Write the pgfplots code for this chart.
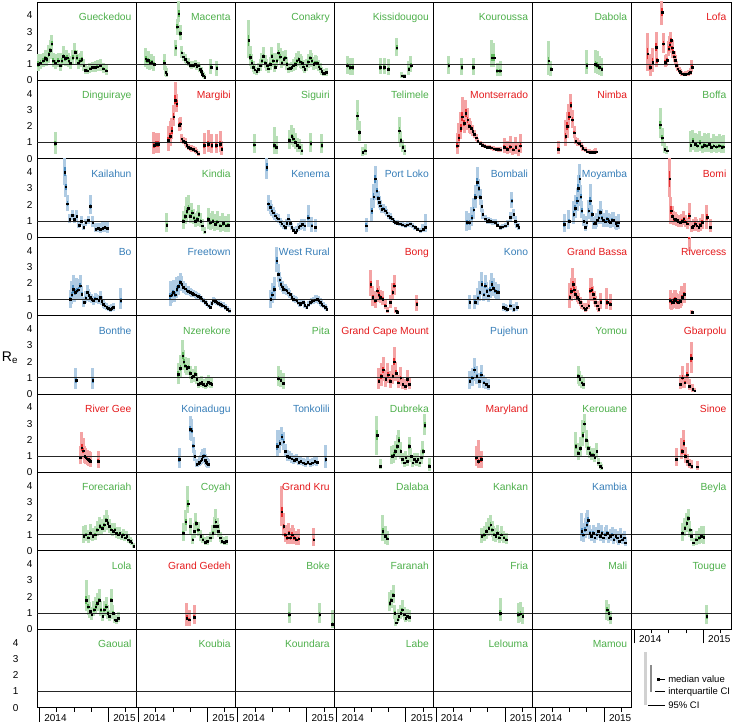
\documentclass[border=0pt]{standalone}
\usepackage{fontspec}
\setmainfont{Liberation Sans}
\usepackage{pgfplots}
\usepackage{pgfplotstable}
\pgfplotsset{compat=1.18}
\usepgfplotslibrary{groupplots}
\usetikzlibrary{calc}
\definecolor{gT}{HTML}{4DAF4A}
\definecolor{rT}{HTML}{E41A1C}
\definecolor{bT}{HTML}{377EB8}
\newcommand{\lf}{\fontsize{10.3bp}{12bp}\selectfont}
\newcommand{\pn}[3]{%
\addplot[forget plot, draw=#1!40!white, line width=3bp, quiver={u=0, v=\thisrow{h}-\thisrow{l}}] table[x=m,y=l] {#3};
\addplot[forget plot, draw=#1!90!white, line width=1.8bp, quiver={u=0, v=\thisrow{b}-\thisrow{a}}] table[x=m,y=a] {#3};
\addplot[black!85, line width=0.8bp, forget plot] coordinates {(-0.4,1) (16.84,1)};
\addplot[only marks, mark=square*, mark size=0.8bp, black, forget plot] table[x=m,y=v] {#3};
\node[anchor=base east, text=#1, font=\lf, inner sep=0pt] at ([xshift=-4.5bp,yshift=-18.5bp]rel axis cs:1,1) {#2};
}
\newcommand{\pe}[2]{%
\addplot[black!85, line width=0.8bp, forget plot] coordinates {(-0.4,1) (16.84,1)};
\node[anchor=base east, text=#1, font=\lf, inner sep=0pt] at ([xshift=-4.5bp,yshift=-18.5bp]rel axis cs:1,1) {#2};
}
\pgfplotstableread{
m v l h a b
-0.2 1.0 0.6 1.6 0.85 1.2
0.2 1.1 0.7 1.6 0.95 1.25
0.7 1.2 0.8 1.7 1.05 1.35
1.0 1.35 0.9 1.9 1.2 1.5
1.3 1.3 0.9 1.8 1.15 1.45
1.6 1.6 1.1 2.2 1.45 1.75
1.9 1.85 1.3 2.5 1.7 2.0
2.15 2.25 1.7 2.8 2.1 2.4
2.45 1.2 0.8 1.7 1.05 1.35
2.8 1.1 0.7 1.6 0.95 1.25
3.3 1.2 0.8 1.7 1.05 1.35
3.6 0.9 0.6 1.3 0.8 1.0
3.9 1.2 0.8 1.7 1.05 1.35
4.2 1.5 1.0 2.1 1.35 1.65
4.5 1.35 0.9 1.9 1.2 1.5
4.8 1.4 1.0 1.9 1.25 1.55
5.1 1.2 0.8 1.7 1.05 1.35
5.4 1.05 0.7 1.5 0.95 1.15
5.8 1.4 1.0 1.9 1.25 1.55
6.2 1.75 1.3 2.3 1.6 1.9
6.5 1.4 1.0 1.9 1.25 1.55
6.8 1.1 0.7 1.6 0.95 1.25
7.1 1.2 0.8 1.7 1.05 1.35
7.4 1.3 0.9 1.8 1.15 1.45
7.7 0.9 0.6 1.3 0.8 1.0
7.95 0.62 0.4 1.0 0.55 0.7
8.3 0.6 0.4 0.9 0.52 0.68
8.8 0.72 0.45 1.05 0.63 0.8
9.2 0.8 0.5 1.15 0.7 0.9
9.7 0.8 0.5 1.2 0.7 0.9
10.1 0.85 0.55 1.25 0.75 0.95
10.6 0.9 0.6 1.3 0.8 1.0
11.1 0.72 0.45 1.1 0.63 0.8
11.6 0.6 0.35 0.95 0.52 0.68
}\tGue
\pgfplotstableread{
m v l h a b
1.27 1.33 0.8 2.0 1.15 1.5
1.5 1.2 0.7 1.8 1.05 1.35
1.72 1.23 0.75 1.8 1.08 1.38
2.0 1.1 0.65 1.65 0.95 1.25
2.3 1.13 0.7 1.65 0.98 1.28
2.7 1.0 0.6 1.5 0.88 1.12
4.45 1.1 0.65 1.6 0.95 1.25
4.75 0.5 0.25 0.9 0.42 0.6
4.9 0.4 0.2 0.75 0.33 0.48
6.5 2.0 1.5 2.5 1.85 2.15
6.77 3.3 2.8 3.8 3.15 3.45
7.0 4.1 3.6 4.9 3.9 4.35
7.23 2.9 2.5 3.4 2.75 3.05
7.5 1.7 1.4 2.1 1.6 1.8
7.8 1.45 1.2 1.75 1.38 1.52
8.1 1.3 1.05 1.6 1.22 1.38
8.4 1.15 0.95 1.4 1.08 1.22
8.7 1.1 0.9 1.35 1.03 1.17
9.0 0.95 0.75 1.2 0.88 1.02
9.27 0.9 0.7 1.15 0.83 0.97
9.55 0.95 0.75 1.2 0.88 1.02
9.85 1.0 0.8 1.25 0.93 1.07
10.1 0.85 0.65 1.1 0.78 0.92
10.4 0.9 0.7 1.15 0.83 0.97
10.7 0.7 0.5 0.95 0.63 0.77
10.9 0.55 0.4 0.8 0.5 0.62
11.1 0.4 0.25 0.6 0.35 0.45
11.3 0.3 0.15 0.5 0.25 0.35
11.5 0.2 0.1 0.4 0.16 0.25
12.6 0.8 0.4 1.3 0.68 0.92
13.6 0.75 0.3 1.2 0.62 0.88
}\tMac
\pgfplotstableread{
m v l h a b
1.9 2.46 1.35 3.7 2.1 2.8
2.17 1.43 0.9 2.1 1.25 1.6
2.45 1.1 0.7 1.6 0.97 1.23
2.75 0.82 0.5 1.2 0.72 0.92
3.0 0.65 0.4 1.0 0.57 0.73
3.3 0.55 0.35 0.85 0.48 0.62
3.6 0.7 0.45 1.05 0.62 0.78
3.9 0.9 0.6 1.3 0.8 1.0
4.2 1.2 0.8 1.7 1.07 1.33
4.5 1.5 1.05 2.05 1.35 1.65
4.8 1.1 0.75 1.55 0.98 1.22
5.1 0.9 0.6 1.3 0.8 1.0
5.35 0.72 0.45 1.05 0.63 0.81
5.65 1.0 0.65 1.45 0.88 1.12
5.95 1.5 1.05 2.05 1.35 1.65
6.2 1.2 0.8 1.7 1.07 1.33
6.5 0.82 0.5 1.2 0.72 0.92
6.8 1.2 0.8 1.7 1.07 1.33
7.1 1.7 1.2 2.3 1.55 1.85
7.4 1.45 1.0 2.0 1.3 1.6
7.7 1.1 0.75 1.55 0.98 1.22
8.0 1.3 0.9 1.8 1.17 1.43
8.26 1.4 1.0 1.9 1.27 1.53
8.55 1.0 0.65 1.45 0.88 1.12
8.85 0.72 0.45 1.05 0.63 0.81
9.1 0.75 0.5 1.1 0.66 0.84
9.4 0.8 0.5 1.15 0.7 0.9
9.7 0.9 0.6 1.3 0.8 1.0
10.0 1.0 0.65 1.45 0.88 1.12
10.3 1.2 0.8 1.7 1.07 1.33
10.6 1.3 0.9 1.8 1.17 1.43
10.9 1.15 0.75 1.6 1.02 1.28
11.2 1.05 0.7 1.5 0.93 1.17
11.45 0.85 0.55 1.25 0.75 0.95
11.7 0.7 0.45 1.05 0.62 0.78
12.0 0.9 0.6 1.3 0.8 1.0
12.3 1.15 0.75 1.6 1.02 1.28
12.6 1.4 0.95 1.9 1.27 1.53
12.9 1.2 0.8 1.7 1.07 1.33
13.2 1.0 0.65 1.45 0.88 1.12
13.5 1.1 0.75 1.55 0.98 1.22
13.8 1.05 0.7 1.5 0.93 1.17
14.1 0.85 0.55 1.25 0.75 0.95
14.35 0.72 0.45 1.05 0.63 0.81
14.6 0.55 0.35 0.85 0.48 0.62
14.9 0.45 0.28 0.7 0.4 0.5
15.15 0.45 0.28 0.7 0.4 0.5
15.4 0.5 0.3 0.75 0.44 0.56
}\tCon
\pgfplotstableread{
m v l h a b
1.86 0.9 0.4 1.5 0.75 1.05
2.33 0.8 0.35 1.4 0.67 0.95
2.8 0.8 0.35 1.4 0.67 0.95
7.55 0.8 0.4 1.4 0.67 0.93
8.25 0.8 0.4 1.4 0.67 0.93
9.0 0.7 0.35 1.3 0.58 0.83
10.45 2.0 1.5 2.6 1.85 2.15
11.3 0.3 0.15 0.5 0.25 0.35
11.7 0.25 0.12 0.4 0.2 0.3
12.5 0.7 0.35 1.2 0.58 0.82
12.9 0.9 0.5 1.5 0.77 1.05
}\tKis
\pgfplotstableread{
m v l h a b
2.2 0.9 0.4 1.5 0.75 1.05
4.5 0.8 0.35 1.4 0.67 0.95
6.5 0.8 0.35 1.4 0.67 0.95
9.7 1.4 0.8 2.5 1.2 1.65
10.1 1.4 0.8 2.3 1.2 1.6
10.65 0.6 0.25 1.1 0.48 0.72
11.2 0.6 0.25 1.2 0.48 0.72
}\tKou
\pgfplotstableread{
m v l h a b
2.35 1.2 0.35 2.4 0.95 1.45
2.77 0.7 0.3 1.2 0.58 0.82
9.0 0.9 0.4 1.9 0.72 1.1
10.5 1.0 0.45 1.9 0.82 1.2
10.8 0.95 0.4 1.8 0.78 1.12
11.2 0.8 0.35 1.5 0.65 0.95
11.6 0.7 0.3 1.4 0.56 0.84
}\tDab
\pgfplotstableread{
m v l h a b
2.33 1.64 0.6 2.9 1.3 2.0
2.8 0.82 0.3 1.6 0.65 1.0
3.2 1.13 0.5 2.0 0.95 1.35
3.8 2.05 1.4 3.0 1.8 2.3
3.96 1.23 0.8 1.8 1.1 1.38
4.83 4.2 3.4 4.9 3.95 4.45
5.1 2.26 1.7 2.9 2.1 2.45
5.4 1.13 0.8 1.55 1.03 1.25
5.7 1.23 0.9 1.65 1.12 1.35
6.0 1.95 1.5 2.45 1.8 2.1
6.2 2.2 1.7 2.7 2.05 2.35
6.4 2.46 1.95 3.0 2.3 2.62
6.6 2.0 1.6 2.5 1.88 2.14
6.75 1.74 1.4 2.15 1.63 1.85
6.95 1.45 1.15 1.8 1.36 1.55
7.15 1.23 0.95 1.55 1.15 1.31
7.35 0.95 0.75 1.2 0.89 1.02
7.55 0.72 0.55 0.95 0.67 0.78
7.8 0.6 0.45 0.8 0.56 0.65
8.0 0.51 0.38 0.68 0.47 0.55
8.3 0.42 0.3 0.58 0.39 0.46
8.6 0.37 0.25 0.52 0.34 0.41
8.9 0.38 0.25 0.55 0.34 0.42
9.2 0.41 0.28 0.6 0.37 0.45
9.5 0.45 0.3 0.65 0.41 0.5
9.76 0.51 0.32 0.75 0.46 0.57
10.05 0.82 0.5 1.25 0.72 0.92
}\tLof
\pgfplotstableread{
m v l h a b
2.73 0.96 0.3 1.64 0.8 1.12
}\tDin
\pgfplotstableread{
m v l h a b
2.7 0.82 0.3 1.64 0.65 1.0
3.0 0.9 0.35 1.6 0.72 1.08
3.46 0.9 0.35 1.6 0.72 1.08
5.2 1.13 0.5 2.0 0.95 1.35
5.5 1.4 0.8 2.3 1.2 1.6
5.8 1.74 1.2 2.5 1.55 1.95
6.1 2.6 2.0 3.3 2.4 2.8
6.37 3.6 3.0 4.7 3.35 3.9
6.66 3.4 2.9 4.0 3.2 3.6
7.06 2.05 1.7 2.5 1.93 2.2
7.23 2.15 1.8 2.55 2.02 2.28
7.5 1.23 1.0 1.5 1.15 1.3
7.8 1.1 0.9 1.35 1.04 1.17
8.1 1.02 0.8 1.25 0.95 1.08
8.4 0.85 0.65 1.05 0.79 0.9
8.7 0.72 0.55 0.92 0.67 0.77
9.0 0.65 0.48 0.85 0.6 0.7
9.27 0.62 0.45 0.82 0.57 0.67
9.55 0.58 0.42 0.78 0.53 0.63
9.85 0.51 0.35 0.7 0.46 0.56
10.1 0.45 0.3 0.62 0.4 0.5
10.4 0.31 0.2 0.48 0.28 0.35
11.4 0.82 0.3 1.6 0.65 1.0
12.15 0.9 0.4 1.8 0.72 1.1
12.75 0.82 0.35 1.5 0.68 0.97
13.5 0.82 0.35 1.5 0.68 0.97
14.2 0.9 0.4 1.7 0.72 1.08
14.5 0.6 0.25 1.1 0.5 0.72
}\tMar
\pgfplotstableread{
m v l h a b
2.87 0.88 0.35 1.5 0.72 1.05
6.35 0.82 0.3 1.95 0.65 1.05
6.7 0.72 0.3 1.4 0.6 0.85
9.0 1.13 0.6 1.8 0.98 1.3
9.4 1.4 0.85 2.1 1.25 1.55
9.7 1.23 0.75 1.9 1.08 1.38
10.0 1.02 0.6 1.6 0.9 1.15
10.4 0.82 0.45 1.3 0.72 0.93
10.75 0.72 0.4 1.2 0.63 0.82
11.15 0.51 0.25 0.9 0.44 0.6
12.7 0.92 0.4 1.6 0.77 1.08
14.65 0.82 0.35 1.5 0.68 0.97
}\tSig
\pgfplotstableread{
m v l h a b
3.6 2.65 1.8 3.6 2.4 2.9
3.95 1.64 1.1 2.3 1.48 1.8
4.5 0.4 0.2 0.75 0.34 0.47
4.94 0.5 0.25 0.9 0.42 0.58
10.9 1.74 1.0 2.6 1.55 1.95
11.15 1.13 0.7 1.7 1.0 1.27
11.5 0.72 0.4 1.15 0.63 0.82
11.8 0.5 0.25 0.85 0.43 0.57
}\tTel
\pgfplotstableread{
m v l h a b
3.7 0.8 0.3 1.6 0.65 0.98
4.0 1.3 0.7 2.2 1.1 1.5
4.3 1.9 1.2 2.9 1.65 2.15
4.6 2.6 1.8 3.8 2.3 2.9
4.9 2.2 1.6 3.0 2.0 2.4
5.2 2.8 2.1 3.6 2.55 3.05
5.5 2.4 1.8 3.1 2.2 2.6
5.8 2.0 1.6 2.5 1.88 2.12
6.1 1.9 1.5 2.35 1.78 2.02
6.4 1.7 1.4 2.05 1.6 1.8
6.7 1.5 1.25 1.8 1.42 1.58
7.0 1.3 1.1 1.55 1.24 1.37
7.3 1.1 0.95 1.3 1.05 1.15
7.7 0.95 0.82 1.1 0.91 0.99
8.1 0.85 0.74 0.97 0.82 0.88
8.5 0.78 0.67 0.9 0.75 0.81
8.9 0.72 0.62 0.84 0.69 0.75
9.3 0.7 0.59 0.82 0.67 0.73
9.7 0.68 0.56 0.81 0.64 0.72
10.1 0.62 0.5 0.76 0.58 0.66
10.5 0.6 0.47 0.75 0.56 0.64
10.9 0.58 0.44 0.75 0.54 0.63
11.3 0.55 0.4 0.74 0.5 0.6
11.9 0.7 0.35 1.3 0.6 0.82
12.4 0.6 0.3 1.1 0.5 0.7
12.9 0.75 0.35 1.4 0.63 0.88
13.4 0.55 0.25 1.05 0.46 0.65
13.9 0.7 0.3 1.35 0.58 0.83
14.4 0.5 0.2 1.0 0.41 0.6
14.7 0.8 0.35 1.5 0.66 0.95
}\tMon
\pgfplotstableread{
m v l h a b
4.0 0.6 0.3 1.1 0.5 0.7
5.3 1.4 0.8 2.4 1.2 1.6
5.6 2.0 1.3 2.9 1.8 2.25
5.9 2.6 1.9 3.4 2.4 2.85
6.2 3.3 2.6 4.0 3.1 3.5
6.5 2.4 1.9 3.0 2.25 2.55
6.8 1.6 1.3 2.0 1.52 1.7
7.1 1.1 0.9 1.35 1.04 1.17
7.4 1.0 0.8 1.25 0.94 1.06
7.7 0.95 0.78 1.15 0.9 1.0
8.0 0.8 0.65 0.98 0.76 0.85
8.3 0.65 0.5 0.82 0.6 0.7
8.7 0.55 0.42 0.72 0.51 0.59
9.1 0.45 0.33 0.6 0.42 0.49
9.5 0.42 0.3 0.58 0.38 0.46
9.9 0.4 0.28 0.57 0.36 0.44
10.3 0.42 0.28 0.6 0.38 0.46
10.6 0.45 0.3 0.65 0.41 0.5
}\tNim
\pgfplotstableread{
m v l h a b
4.5 2.1 1.3 3.1 1.85 2.35
4.9 1.3 0.8 1.9 1.15 1.45
5.3 0.6 0.35 0.95 0.53 0.67
5.7 0.5 0.3 0.8 0.44 0.56
9.8 0.85 0.4 1.7 0.7 1.0
10.2 1.1 0.55 1.8 0.95 1.25
10.6 0.9 0.45 1.6 0.76 1.04
11.0 0.8 0.4 1.5 0.67 0.94
11.4 1.0 0.5 1.7 0.86 1.15
11.8 0.75 0.35 1.4 0.62 0.88
12.2 0.85 0.4 1.6 0.7 1.0
12.6 0.8 0.4 1.5 0.67 0.94
13.0 0.9 0.45 1.6 0.76 1.04
13.4 0.7 0.35 1.3 0.58 0.82
13.8 0.8 0.4 1.5 0.67 0.94
14.3 0.75 0.35 1.4 0.62 0.88
14.8 0.8 0.4 1.5 0.67 0.94
15.2 0.7 0.35 1.4 0.58 0.82
15.5 0.75 0.35 1.45 0.62 0.88
}\tBof
\pgfplotstableread{
m v l h a b
4.4 4.0 3.2 4.9 3.75 4.3
4.6 3.1 2.5 3.8 2.9 3.3
4.9 2.05 1.6 2.6 1.9 2.2
5.3 1.1 0.85 1.4 1.02 1.18
5.7 1.35 1.05 1.7 1.26 1.44
6.1 1.1 0.85 1.4 1.02 1.18
6.5 1.3 1.0 1.65 1.21 1.39
6.9 0.75 0.55 1.0 0.69 0.81
7.3 1.0 0.78 1.28 0.93 1.07
7.7 0.6 0.44 0.8 0.55 0.65
8.1 0.9 0.7 1.15 0.84 0.96
8.5 1.05 0.82 1.32 0.98 1.12
8.9 1.9 1.4 2.6 1.75 2.05
9.3 0.9 0.6 1.3 0.81 0.99
9.8 0.5 0.3 0.85 0.44 0.57
10.2 0.55 0.3 0.9 0.48 0.62
10.6 0.5 0.28 0.85 0.44 0.57
11.0 0.55 0.3 0.95 0.48 0.63
11.4 0.6 0.3 1.0 0.52 0.68
11.8 0.55 0.28 0.95 0.47 0.63
}\tKai
\pgfplotstableread{
m v l h a b
4.9 0.75 0.3 1.5 0.6 0.9
7.8 1.0 0.5 1.6 0.87 1.13
8.1 1.3 0.8 1.9 1.15 1.45
8.4 1.6 1.0 2.5 1.42 1.8
8.7 1.8 1.2 2.6 1.62 1.98
9.0 1.3 0.85 1.9 1.17 1.43
9.3 1.5 1.0 2.1 1.35 1.65
9.6 1.2 0.8 1.75 1.08 1.32
9.9 1.0 0.65 1.5 0.9 1.1
10.2 1.1 0.7 1.6 0.98 1.22
10.5 1.4 0.95 2.0 1.26 1.54
10.8 1.0 0.65 1.5 0.9 1.1
11.1 0.7 0.4 1.1 0.62 0.78
11.5 0.35 0.2 0.6 0.3 0.4
12.1 1.1 0.5 1.8 0.95 1.25
12.5 0.9 0.45 1.5 0.77 1.03
12.9 1.0 0.5 1.6 0.86 1.14
13.3 0.8 0.4 1.4 0.68 0.92
13.7 0.95 0.45 1.6 0.82 1.08
14.2 0.7 0.35 1.3 0.6 0.8
14.7 0.85 0.4 1.5 0.72 0.98
15.2 0.7 0.35 1.3 0.6 0.8
15.6 0.75 0.35 1.4 0.63 0.87
}\tKin
\pgfplotstableread{
m v l h a b
5.07 4.3 3.6 4.9 4.05 4.55
5.36 2.05 1.6 2.6 1.92 2.18
5.65 1.85 1.45 2.3 1.74 1.96
5.95 1.64 1.3 2.05 1.55 1.73
6.2 1.5 1.2 1.85 1.42 1.58
6.5 1.33 1.05 1.65 1.26 1.4
6.8 1.2 0.95 1.5 1.13 1.27
7.1 1.13 0.9 1.4 1.06 1.2
7.4 0.95 0.75 1.2 0.9 1.0
7.7 0.82 0.62 1.05 0.77 0.87
8.0 0.7 0.52 0.92 0.65 0.75
8.26 0.61 0.44 0.82 0.56 0.66
8.55 0.85 0.62 1.12 0.79 0.91
8.85 1.13 0.85 1.45 1.05 1.21
9.1 0.85 0.6 1.15 0.78 0.92
9.4 0.61 0.42 0.85 0.56 0.66
9.7 0.45 0.3 0.65 0.41 0.49
10.0 0.3 0.18 0.48 0.27 0.34
10.3 0.45 0.28 0.68 0.4 0.5
10.6 0.6 0.38 0.88 0.54 0.66
10.9 0.7 0.45 1.0 0.63 0.77
11.2 0.8 0.5 1.15 0.72 0.88
11.7 0.7 0.4 1.1 0.62 0.78
12.3 1.2 0.6 2.0 1.05 1.35
12.9 0.7 0.35 1.25 0.6 0.8
13.5 0.6 0.3 1.1 0.52 0.68
}\tKen
\pgfplotstableread{
m v l h a b
5.1 0.72 0.3 1.2 0.6 0.85
6.1 1.64 1.0 2.4 1.45 1.82
6.4 2.5 1.8 3.3 2.3 2.7
6.68 3.6 2.8 4.4 3.35 3.85
6.97 2.87 2.3 3.5 2.7 3.04
7.2 2.4 2.0 2.85 2.28 2.52
7.4 2.15 1.8 2.55 2.05 2.25
7.6 1.95 1.65 2.3 1.86 2.04
7.85 1.74 1.48 2.05 1.66 1.82
8.1 1.75 1.5 2.05 1.67 1.83
8.4 1.64 1.4 1.92 1.57 1.71
8.7 1.5 1.28 1.75 1.43 1.57
9.0 1.33 1.13 1.55 1.27 1.39
9.3 1.25 1.06 1.46 1.19 1.31
9.6 1.13 0.96 1.32 1.08 1.18
9.9 1.0 0.85 1.17 0.95 1.05
10.15 0.92 0.78 1.08 0.88 0.96
10.5 0.88 0.74 1.04 0.84 0.92
11.0 0.82 0.68 0.98 0.78 0.86
11.4 0.78 0.64 0.94 0.74 0.82
11.9 0.72 0.58 0.88 0.68 0.76
12.3 0.78 0.63 0.95 0.74 0.82
12.8 0.82 0.66 1.0 0.77 0.87
13.2 0.7 0.55 0.88 0.66 0.74
13.6 0.61 0.47 0.78 0.57 0.65
14.0 0.5 0.37 0.66 0.46 0.54
14.5 0.41 0.29 0.56 0.37 0.45
15.0 0.5 0.3 0.8 0.45 0.56
15.4 0.61 0.3 1.4 0.52 0.72
}\tPor
\pgfplotstableread{
m v l h a b
5.4 0.92 0.4 1.6 0.78 1.06
5.85 0.9 0.45 1.5 0.77 1.04
6.26 1.2 0.7 1.85 1.06 1.34
6.55 1.7 1.15 2.4 1.55 1.85
6.83 2.46 1.8 3.2 2.28 2.64
7.2 3.4 2.5 4.3 3.15 3.65
7.45 3.0 2.4 3.6 2.82 3.18
7.7 2.46 2.0 2.95 2.33 2.6
7.95 1.9 1.55 2.3 1.8 2.0
8.17 1.43 1.15 1.75 1.36 1.5
8.57 1.13 0.92 1.38 1.07 1.19
8.9 1.0 0.82 1.22 0.95 1.05
9.2 1.05 0.86 1.27 1.0 1.1
9.44 1.0 0.82 1.2 0.95 1.05
9.85 0.95 0.77 1.15 0.9 1.0
10.3 0.92 0.75 1.12 0.87 0.97
10.7 0.75 0.6 0.93 0.71 0.79
11.2 0.6 0.47 0.76 0.57 0.64
11.6 0.65 0.5 0.82 0.61 0.69
12.05 0.7 0.55 0.88 0.66 0.74
12.5 0.85 0.66 1.08 0.8 0.9
12.9 1.23 0.95 1.55 1.16 1.3
13.2 2.25 1.8 2.8 2.12 2.38
13.5 1.4 1.1 1.75 1.32 1.48
13.8 1.0 0.75 1.3 0.94 1.06
14.1 0.75 0.55 1.0 0.7 0.8
14.4 0.6 0.42 0.85 0.55 0.65
}\tBom
\pgfplotstableread{
m v l h a b
5.08 0.8 0.3 1.4 0.65 0.95
5.9 1.0 0.5 1.7 0.85 1.15
6.7 1.43 0.8 2.2 1.25 1.6
7.0 1.8 1.2 2.6 1.63 1.98
7.3 2.25 1.6 3.0 2.05 2.45
7.5 3.0 2.2 3.8 2.75 3.25
7.74 3.6 2.7 4.5 3.35 3.85
7.95 2.5 1.9 3.2 2.32 2.68
8.15 1.64 1.2 2.2 1.5 1.78
8.45 1.0 0.7 1.4 0.92 1.08
8.73 0.62 0.4 0.9 0.56 0.68
9.0 0.9 0.6 1.3 0.82 0.98
9.3 1.64 1.1 2.3 1.5 1.78
9.6 2.25 1.5 3.3 2.0 2.5
9.9 1.4 0.95 2.0 1.27 1.53
10.2 0.82 0.5 1.25 0.73 0.91
10.5 0.85 0.5 1.3 0.75 0.95
10.77 1.03 0.65 1.5 0.92 1.14
11.05 1.2 0.8 1.75 1.08 1.32
11.3 1.54 1.0 2.2 1.38 1.7
11.6 1.2 0.8 1.75 1.08 1.32
11.9 1.03 0.65 1.5 0.92 1.14
12.2 0.95 0.6 1.4 0.85 1.05
12.5 1.13 0.72 1.65 1.01 1.25
12.8 1.0 0.62 1.5 0.89 1.11
13.1 0.92 0.55 1.4 0.82 1.02
13.4 1.05 0.65 1.55 0.94 1.16
13.7 1.03 0.62 1.55 0.91 1.15
14.0 0.85 0.5 1.3 0.75 0.95
14.25 0.72 0.42 1.15 0.63 0.81
14.5 0.9 0.5 1.45 0.79 1.01
}\tMoy
\pgfplotstableread{
m v l h a b
6.16 3.6 2.5 4.9 3.1 4.1
6.4 1.64 0.8 2.5 1.4 1.9
6.65 1.3 0.8 1.9 1.17 1.43
6.85 1.13 0.75 1.6 1.02 1.24
7.15 1.1 0.75 1.55 1.0 1.2
7.44 1.03 0.7 1.45 0.93 1.13
7.7 0.95 0.65 1.35 0.86 1.04
8.0 0.92 0.6 1.3 0.83 1.01
8.3 1.0 0.65 1.45 0.9 1.1
8.6 1.13 0.75 1.6 1.02 1.24
8.9 0.95 0.6 1.35 0.85 1.05
9.2 0.82 0.5 1.2 0.73 0.91
9.6 1.33 0.7 2.1 1.15 1.5
10.05 0.62 0.35 1.0 0.55 0.7
10.3 0.7 0.4 1.1 0.62 0.78
10.6 0.82 0.45 1.25 0.72 0.92
10.9 0.7 0.4 1.1 0.62 0.78
11.2 0.62 0.33 1.0 0.54 0.7
11.5 0.75 0.4 1.2 0.65 0.85
11.8 0.92 0.5 1.45 0.8 1.04
12.66 1.23 0.5 2.0 1.05 1.4
13.2 0.62 0.3 1.1 0.52 0.72
}\tBmi
\pgfplotstableread{
m v l h a b
5.34 1.02 0.5 1.6 0.88 1.16
5.62 1.3 0.7 2.1 1.12 1.48
5.9 1.64 0.9 2.5 1.42 1.86
6.2 1.45 0.85 2.2 1.28 1.62
6.5 1.54 0.95 2.3 1.38 1.7
6.8 1.6 1.05 2.25 1.44 1.76
7.08 1.84 1.3 2.5 1.68 2.0
7.37 1.33 0.95 1.8 1.22 1.44
7.77 0.82 0.55 1.15 0.74 0.9
8.05 1.1 0.78 1.5 1.01 1.19
8.35 1.43 1.05 1.9 1.32 1.54
8.6 1.25 0.92 1.65 1.16 1.34
8.8 1.13 0.85 1.48 1.05 1.21
9.1 1.0 0.75 1.32 0.93 1.07
9.4 0.92 0.68 1.22 0.85 0.99
9.7 1.05 0.78 1.38 0.98 1.12
10.0 1.03 0.76 1.36 0.96 1.1
10.3 0.95 0.7 1.26 0.88 1.02
10.56 1.13 0.83 1.5 1.05 1.21
10.85 0.9 0.65 1.2 0.83 0.97
11.1 0.72 0.5 1.0 0.66 0.78
11.4 0.6 0.41 0.85 0.55 0.65
11.7 0.51 0.33 0.75 0.46 0.56
12.0 0.45 0.28 0.68 0.4 0.5
12.3 0.41 0.25 0.63 0.37 0.45
12.6 0.45 0.27 0.7 0.4 0.5
12.9 0.51 0.3 0.8 0.45 0.57
14.15 0.92 0.4 1.7 0.78 1.06
}\tBo
\pgfplotstableread{
m v l h a b
5.5 1.22 0.6 2.1 1.05 1.4
5.8 1.3 0.75 2.1 1.14 1.46
6.07 1.43 0.9 2.2 1.28 1.6
6.35 1.3 0.85 1.95 1.17 1.43
6.66 1.64 1.1 2.35 1.48 1.8
6.95 1.8 1.3 2.45 1.66 1.94
7.23 2.05 1.5 2.6 1.9 2.2
7.5 1.95 1.55 2.45 1.84 2.06
7.8 1.74 1.42 2.12 1.65 1.83
8.1 1.65 1.36 2.0 1.57 1.73
8.4 1.54 1.27 1.85 1.47 1.61
8.7 1.5 1.25 1.8 1.43 1.57
9.0 1.43 1.2 1.7 1.37 1.49
9.3 1.38 1.16 1.62 1.32 1.44
9.55 1.33 1.12 1.57 1.27 1.39
9.85 1.28 1.08 1.5 1.22 1.34
10.1 1.23 1.04 1.44 1.18 1.28
10.4 1.2 1.02 1.4 1.15 1.25
10.7 1.13 0.96 1.32 1.08 1.18
11.0 1.03 0.86 1.22 0.98 1.08
11.3 0.92 0.77 1.1 0.88 0.96
11.6 0.82 0.68 0.98 0.78 0.86
11.9 0.72 0.59 0.87 0.68 0.76
12.2 0.6 0.48 0.74 0.57 0.63
12.45 0.51 0.4 0.65 0.48 0.54
12.75 0.75 0.6 0.92 0.71 0.79
13.0 0.92 0.74 1.12 0.87 0.97
13.3 0.88 0.7 1.08 0.83 0.93
13.6 0.82 0.65 1.02 0.77 0.87
13.9 0.78 0.61 0.98 0.73 0.83
14.2 0.72 0.56 0.91 0.67 0.77
14.5 0.66 0.5 0.85 0.61 0.71
14.8 0.62 0.46 0.82 0.57 0.67
15.1 0.52 0.37 0.7 0.48 0.56
15.4 0.41 0.28 0.58 0.37 0.45
15.8 0.31 0.19 0.47 0.28 0.34
}\tFre
\pgfplotstableread{
m v l h a b
5.77 1.02 0.5 1.6 0.88 1.16
6.05 1.3 0.75 2.0 1.14 1.46
6.35 1.64 1.0 2.4 1.45 1.83
6.8 3.38 2.7 4.2 3.15 3.6
7.1 2.56 2.05 3.15 2.42 2.7
7.3 2.2 1.78 2.7 2.08 2.32
7.5 1.94 1.6 2.35 1.84 2.04
7.75 1.78 1.47 2.15 1.7 1.86
7.97 1.64 1.36 1.97 1.56 1.72
8.25 1.6 1.33 1.92 1.53 1.67
8.55 1.54 1.28 1.85 1.47 1.61
8.8 1.42 1.18 1.7 1.36 1.48
9.1 1.33 1.1 1.6 1.27 1.39
9.4 1.15 0.95 1.4 1.1 1.2
9.7 1.02 0.84 1.24 0.97 1.07
10.0 0.98 0.8 1.2 0.93 1.03
10.3 0.92 0.75 1.13 0.87 0.97
10.55 0.8 0.64 1.0 0.76 0.84
10.85 0.72 0.56 0.92 0.68 0.76
11.1 0.8 0.63 1.0 0.75 0.85
11.4 0.82 0.65 1.02 0.77 0.87
11.7 0.65 0.5 0.84 0.61 0.69
12.0 0.51 0.38 0.68 0.48 0.54
12.3 0.68 0.52 0.88 0.64 0.72
12.6 0.82 0.64 1.04 0.77 0.87
12.9 0.88 0.69 1.1 0.83 0.93
13.2 0.92 0.72 1.15 0.87 0.97
13.5 0.98 0.76 1.24 0.92 1.04
13.8 1.02 0.78 1.3 0.96 1.08
14.1 0.92 0.7 1.18 0.86 0.98
14.35 0.82 0.62 1.07 0.77 0.87
14.65 0.72 0.53 0.96 0.67 0.77
14.9 0.62 0.44 0.85 0.57 0.67
15.2 0.52 0.36 0.74 0.48 0.56
15.5 0.41 0.27 0.6 0.37 0.45
}\tWes
\pgfplotstableread{
m v l h a b
5.9 1.94 1.2 2.8 1.72 2.16
6.27 1.13 0.6 1.8 0.98 1.28
6.68 0.92 0.5 1.5 0.8 1.04
7.08 1.54 1.0 2.2 1.4 1.68
7.3 1.3 0.85 1.85 1.17 1.43
7.55 1.13 0.75 1.6 1.02 1.24
8.0 1.02 0.65 1.5 0.92 1.12
8.4 0.62 0.38 0.95 0.55 0.69
8.8 0.31 0.16 0.55 0.27 0.35
9.3 0.82 0.5 1.25 0.73 0.91
9.7 1.43 0.95 2.0 1.3 1.56
10.0 1.84 1.3 2.5 1.7 1.98
10.3 0.31 0.17 0.52 0.27 0.35
10.55 0.2 0.1 0.35 0.17 0.23
13.9 0.72 0.3 1.3 0.6 0.84
}\tBng
\pgfplotstableread{
m v l h a b
5.85 0.82 0.4 1.3 0.7 0.94
6.8 0.82 0.4 1.3 0.7 0.94
7.3 1.1 0.65 1.7 0.97 1.23
7.6 1.43 0.9 2.1 1.28 1.58
8.0 1.94 1.3 2.7 1.76 2.12
8.3 1.3 0.9 1.85 1.18 1.42
8.57 1.84 1.3 2.5 1.68 2.0
8.85 1.5 1.05 2.05 1.37 1.63
9.15 1.23 0.85 1.7 1.12 1.34
9.45 1.6 1.1 2.2 1.46 1.74
9.74 1.94 1.35 2.6 1.78 2.1
10.0 1.7 1.2 2.3 1.56 1.84
10.3 1.54 1.1 2.05 1.42 1.66
10.6 1.45 1.02 1.95 1.33 1.57
10.9 1.43 1.0 1.95 1.31 1.55
11.75 0.51 0.3 0.8 0.45 0.57
12.05 0.45 0.26 0.72 0.4 0.5
12.35 0.41 0.23 0.66 0.36 0.46
12.9 0.62 0.35 0.98 0.55 0.69
13.5 0.41 0.22 0.7 0.36 0.46
14.1 0.51 0.28 0.85 0.45 0.57
}\tKon
\pgfplotstableread{
m v l h a b
6.0 1.13 0.5 2.0 0.97 1.29
6.3 1.5 0.9 2.3 1.33 1.67
6.6 1.94 1.3 2.9 1.75 2.13
6.8 1.6 1.1 2.3 1.46 1.74
7.0 1.33 0.95 1.85 1.22 1.44
7.3 1.15 0.82 1.6 1.06 1.24
7.57 1.02 0.72 1.42 0.94 1.1
7.85 0.82 0.57 1.15 0.75 0.89
8.15 0.62 0.42 0.9 0.56 0.68
8.45 0.5 0.32 0.75 0.45 0.55
8.73 0.41 0.25 0.65 0.36 0.46
9.0 0.5 0.3 0.78 0.44 0.56
9.3 0.62 0.38 0.95 0.55 0.69
9.6 1.54 0.9 2.3 1.38 1.7
9.85 1.6 1.05 2.3 1.46 1.74
10.07 1.33 0.9 1.85 1.22 1.44
10.3 1.05 0.7 1.5 0.96 1.14
10.5 0.82 0.52 1.2 0.74 0.9
10.8 0.6 0.36 0.92 0.54 0.66
11.05 0.41 0.22 0.68 0.36 0.46
11.45 0.82 0.4 1.4 0.7 0.94
12.5 0.82 0.4 1.7 0.68 0.96
13.1 0.72 0.33 1.35 0.6 0.84
}\tGba
\pgfplotstableread{
m v l h a b
6.28 0.92 0.4 1.6 0.78 1.06
6.5 0.8 0.35 1.4 0.67 0.93
6.75 0.82 0.4 1.35 0.7 0.94
6.95 0.95 0.45 1.55 0.8 1.1
7.15 1.02 0.5 1.6 0.87 1.17
7.4 0.85 0.4 1.4 0.72 0.98
7.7 0.82 0.4 1.35 0.7 0.94
8.0 0.9 0.45 1.5 0.77 1.03
8.3 1.13 0.6 1.8 0.98 1.28
8.7 1.33 0.8 2.0 1.18 1.48
9.6 5.2 4.0 6.5 4.7 5.7
10.05 0.2 0.1 0.35 0.17 0.23
}\tRiv
\pgfplotstableread{
m v l h a b
6.38 0.85 0.3 1.63 0.68 1.02
9.28 0.85 0.3 1.63 0.68 1.02
}\tBth
\pgfplotstableread{
m v l h a b
6.94 1.22 0.6 1.9 1.05 1.4
7.3 1.6 1.0 2.4 1.42 1.78
7.7 2.35 1.7 3.35 2.15 2.6
7.9 2.0 1.5 2.7 1.85 2.15
8.1 1.74 1.3 2.3 1.62 1.86
8.4 1.6 1.2 2.1 1.49 1.71
8.7 1.64 1.2 2.2 1.52 1.76
9.0 1.3 0.95 1.75 1.2 1.4
9.27 1.02 0.7 1.45 0.93 1.11
9.55 1.1 0.75 1.55 1.0 1.2
9.85 1.22 0.85 1.7 1.11 1.33
10.1 0.9 0.6 1.3 0.82 0.98
10.4 0.61 0.38 0.95 0.55 0.67
10.7 0.68 0.42 1.05 0.61 0.75
11.0 0.72 0.45 1.1 0.65 0.79
11.3 0.6 0.36 0.95 0.54 0.66
11.6 0.51 0.3 0.85 0.45 0.57
11.9 0.62 0.36 1.0 0.55 0.69
12.16 0.72 0.42 1.15 0.64 0.8
12.45 0.65 0.38 1.05 0.58 0.72
12.75 0.61 0.35 1.0 0.54 0.68
}\tNze
\pgfplotstableread{
m v l h a b
7.1 0.95 0.5 1.7 0.8 1.1
7.5 0.85 0.45 1.5 0.72 0.98
7.9 0.65 0.3 1.3 0.54 0.76
}\tPit
\pgfplotstableread{
m v l h a b
7.3 0.8 0.3 1.6 0.65 0.95
7.7 1.1 0.5 1.9 0.94 1.26
8.1 1.5 0.8 2.3 1.32 1.68
8.5 0.9 0.45 1.5 0.78 1.02
8.9 1.2 0.65 1.9 1.05 1.35
9.3 0.8 0.4 1.4 0.68 0.92
9.7 1.1 0.6 1.8 0.96 1.24
10.0 2.0 1.3 2.9 1.8 2.2
10.3 1.3 0.8 1.95 1.15 1.45
10.7 0.7 0.35 1.2 0.6 0.8
11.1 1.0 0.5 1.65 0.86 1.14
11.5 0.6 0.3 1.05 0.52 0.68
11.9 0.5 0.25 0.9 0.43 0.57
12.3 0.9 0.45 1.5 0.77 1.03
12.6 0.6 0.3 1.05 0.52 0.68
}\tGcm
\pgfplotstableread{
m v l h a b
5.9 0.8 0.3 1.4 0.67 0.93
6.3 1.0 0.5 1.6 0.86 1.14
6.7 1.5 0.8 2.2 1.32 1.68
7.1 1.1 0.6 1.7 0.96 1.24
7.5 0.8 0.4 1.3 0.69 0.91
7.9 1.2 0.7 1.8 1.06 1.34
8.3 0.7 0.35 1.2 0.6 0.8
8.7 0.6 0.3 1.05 0.52 0.68
9.1 0.5 0.25 0.9 0.43 0.57
}\tPuj
\pgfplotstableread{
m v l h a b
7.5 1.1 0.6 1.7 0.96 1.24
7.8 0.9 0.5 1.4 0.79 1.01
8.1 0.7 0.35 1.2 0.6 0.8
8.4 0.6 0.3 1.0 0.52 0.68
}\tYom
\pgfplotstableread{
m v l h a b
8.0 0.6 0.3 1.2 0.5 0.7
8.4 1.0 0.4 1.7 0.85 1.15
8.8 0.7 0.35 1.2 0.6 0.8
9.2 1.2 0.6 1.9 1.05 1.35
9.6 0.5 0.25 0.9 0.43 0.57
9.9 2.2 1.3 3.2 1.95 2.45
10.2 0.3 0.15 0.6 0.25 0.35
10.5 0.2 0.1 0.4 0.17 0.23
}\tGbp
\pgfplotstableread{
m v l h a b
7.08 0.91 0.5 1.6 0.8 1.02
7.37 1.53 0.8 2.5 1.35 1.72
7.66 1.33 0.8 2.1 1.18 1.48
7.9 1.0 0.6 1.6 0.9 1.1
8.07 0.91 0.5 1.5 0.8 1.02
8.3 0.85 0.45 1.4 0.74 0.96
8.5 0.81 0.4 1.35 0.7 0.92
8.7 0.75 0.38 1.3 0.65 0.85
8.9 0.71 0.35 1.25 0.61 0.81
10.26 0.71 0.3 1.3 0.6 0.82
}\tRge
\pgfplotstableread{
m v l h a b
7.06 0.81 0.3 1.5 0.66 0.96
9.0 2.66 2.0 3.5 2.48 2.84
9.27 2.56 1.95 3.3 2.4 2.72
9.55 1.64 1.2 2.2 1.52 1.76
9.8 1.0 0.7 1.4 0.92 1.08
10.1 0.51 0.32 0.78 0.46 0.56
10.35 0.55 0.34 0.85 0.49 0.61
10.6 0.62 0.38 0.95 0.56 0.68
10.8 0.72 0.45 1.1 0.65 0.79
11.0 0.82 0.5 1.25 0.74 0.9
11.2 1.0 0.6 1.45 0.9 1.1
11.4 1.02 0.62 1.5 0.92 1.12
11.6 0.75 0.45 1.15 0.68 0.82
11.75 0.62 0.35 1.0 0.55 0.69
12.0 0.55 0.3 0.9 0.49 0.61
12.16 0.51 0.28 0.85 0.45 0.57
}\tKoi
\pgfplotstableread{
m v l h a b
6.9 1.6 1.0 2.6 1.4 1.8
7.3 1.8 1.2 2.6 1.62 1.98
7.7 2.2 1.6 2.8 2.02 2.38
8.0 1.9 1.4 2.5 1.75 2.05
8.3 1.3 0.95 1.75 1.2 1.4
8.6 1.0 0.72 1.38 0.92 1.08
9.0 0.95 0.68 1.3 0.87 1.03
9.4 0.85 0.6 1.18 0.78 0.92
9.8 0.75 0.52 1.06 0.68 0.82
10.2 0.8 0.56 1.12 0.73 0.87
10.6 0.65 0.44 0.94 0.59 0.71
11.0 0.7 0.48 1.0 0.64 0.76
11.4 0.6 0.4 0.88 0.54 0.66
11.8 0.55 0.36 0.82 0.5 0.6
12.2 0.65 0.44 0.94 0.59 0.71
12.6 0.55 0.36 0.82 0.5 0.6
13.0 0.6 0.4 0.88 0.54 0.66
13.4 0.7 0.46 1.02 0.63 0.77
13.8 0.65 0.42 0.98 0.58 0.72
15.3 0.8 0.3 1.7 0.65 0.95
}\tTon
\pgfplotstableread{
m v l h a b
7.0 2.3 1.1 3.5 2.0 2.6
7.6 0.4 0.2 0.8 0.33 0.47
9.6 1.0 0.5 1.6 0.86 1.14
9.9 1.1 0.6 1.7 0.96 1.24
10.2 1.3 0.75 1.95 1.15 1.45
10.5 1.6 1.0 2.3 1.43 1.77
10.8 2.0 1.4 2.6 1.83 2.17
11.1 1.3 0.85 1.85 1.17 1.43
11.4 0.8 0.5 1.2 0.72 0.88
11.7 0.6 0.35 0.95 0.53 0.67
12.0 0.9 0.55 1.35 0.8 1.0
12.3 0.7 0.42 1.08 0.62 0.78
12.6 1.6 1.0 2.2 1.44 1.76
12.9 1.0 0.62 1.5 0.9 1.1
13.2 0.6 0.35 0.95 0.53 0.67
13.5 0.8 0.48 1.22 0.71 0.89
13.8 0.7 0.42 1.08 0.62 0.78
14.1 0.8 0.48 1.22 0.71 0.89
14.4 0.6 0.35 0.95 0.53 0.67
14.7 0.9 0.52 1.4 0.8 1.0
15.0 1.3 0.8 1.95 1.16 1.44
15.3 2.9 2.3 3.6 2.72 3.08
16.1 0.4 0.1 0.9 0.3 0.5
}\tDub
\pgfplotstableread{
m v l h a b
7.0 0.9 0.4 1.6 0.76 1.04
7.4 0.7 0.25 2.0 0.55 0.85
7.9 0.8 0.3 1.35 0.66 0.94
}\tMry
\pgfplotstableread{
m v l h a b
7.1 1.6 1.0 2.5 1.42 1.78
7.5 1.2 0.75 1.8 1.07 1.33
7.9 1.5 1.0 2.2 1.35 1.65
8.3 2.3 1.6 3.2 2.1 2.5
8.6 3.0 2.4 3.6 2.83 3.17
8.9 2.0 1.5 2.6 1.86 2.14
9.2 1.5 1.1 2.0 1.39 1.61
9.5 1.2 0.86 1.62 1.11 1.29
9.8 1.1 0.78 1.5 1.01 1.19
10.1 1.1 0.78 1.5 1.01 1.19
10.4 0.9 0.62 1.26 0.82 0.98
10.7 1.3 0.9 1.8 1.19 1.41
11.0 0.6 0.38 0.9 0.54 0.66
11.3 0.4 0.24 0.65 0.36 0.44
11.6 0.3 0.16 0.52 0.26 0.34
}\tKer
\pgfplotstableread{
m v l h a b
7.3 0.8 0.4 1.5 0.68 0.92
8.3 1.3 0.8 2.1 1.15 1.45
8.6 1.8 1.1 2.6 1.6 2.0
8.9 1.0 0.6 1.55 0.89 1.11
9.2 0.7 0.4 1.15 0.61 0.79
9.6 0.5 0.28 0.85 0.44 0.56
10.0 0.4 0.2 0.75 0.34 0.46
11.0 0.35 0.15 0.7 0.29 0.41
}\tSin
\pgfplotstableread{
m v l h a b
7.7 0.9 0.5 1.5 0.79 1.01
8.1 1.0 0.6 1.6 0.89 1.11
8.5 0.8 0.48 1.3 0.71 0.89
8.9 1.1 0.7 1.65 0.99 1.21
9.3 0.9 0.58 1.38 0.81 0.99
9.7 1.0 0.65 1.5 0.9 1.1
10.1 1.3 0.9 1.85 1.19 1.41
10.5 1.5 1.05 2.1 1.37 1.63
10.9 1.4 1.0 1.95 1.29 1.51
11.3 1.6 1.15 2.2 1.47 1.73
11.6 1.9 1.4 2.5 1.76 2.04
11.9 1.7 1.28 2.2 1.59 1.81
12.2 1.5 1.12 1.95 1.4 1.6
12.5 1.3 0.98 1.7 1.21 1.39
12.8 1.2 0.9 1.58 1.12 1.28
13.1 1.3 0.98 1.7 1.21 1.39
13.4 1.1 0.82 1.45 1.02 1.18
13.7 1.0 0.74 1.34 0.93 1.07
14.0 1.1 0.82 1.45 1.02 1.18
14.3 0.9 0.66 1.2 0.84 0.96
14.6 1.0 0.74 1.34 0.93 1.07
14.9 0.8 0.58 1.08 0.74 0.86
15.2 0.9 0.66 1.2 0.84 0.96
15.5 0.7 0.5 0.96 0.65 0.75
15.8 0.6 0.42 0.84 0.55 0.65
16.1 0.5 0.34 0.72 0.46 0.54
16.4 0.3 0.18 0.5 0.27 0.33
}\tFor
\pgfplotstableread{
m v l h a b
7.75 1.1 0.6 1.7 0.97 1.23
8.2 1.8 1.2 2.5 1.62 1.98
8.6 2.9 2.3 4.0 2.7 3.1
9.0 1.5 1.05 2.05 1.38 1.62
9.4 0.7 0.45 1.05 0.63 0.77
9.7 1.2 0.82 1.7 1.1 1.3
10.0 1.7 1.2 2.3 1.56 1.84
10.4 1.3 0.92 1.8 1.19 1.41
10.8 0.9 0.6 1.3 0.82 0.98
11.2 0.7 0.46 1.04 0.63 0.77
11.6 0.55 0.35 0.84 0.5 0.6
12.0 0.6 0.38 0.9 0.54 0.66
12.5 0.8 0.52 1.18 0.72 0.88
12.9 1.1 0.75 1.58 1.0 1.2
13.2 1.5 1.05 2.1 1.38 1.62
13.4 1.8 1.3 2.6 1.65 1.95
13.7 1.5 1.08 2.05 1.38 1.62
13.9 1.2 0.85 1.68 1.1 1.3
14.2 0.8 0.55 1.15 0.72 0.88
14.5 0.6 0.4 0.9 0.54 0.66
14.9 0.55 0.35 0.84 0.49 0.61
15.3 0.6 0.38 0.92 0.54 0.66
}\tCoy
\pgfplotstableread{
m v l h a b
7.7 2.4 1.5 4.0 2.1 2.7
8.0 1.5 0.9 2.3 1.32 1.68
8.3 1.0 0.55 1.6 0.87 1.13
8.6 0.8 0.4 1.4 0.68 0.92
8.9 1.1 0.6 1.7 0.96 1.24
9.2 0.8 0.4 1.4 0.68 0.92
9.5 1.0 0.52 1.6 0.86 1.14
9.8 0.8 0.4 1.4 0.68 0.92
10.2 0.7 0.35 1.25 0.59 0.81
10.6 0.75 0.36 1.35 0.63 0.87
13.2 0.7 0.3 1.4 0.58 0.82
}\tGkr
\pgfplotstableread{
m v l h a b
8.0 1.2 0.6 2.2 1.0 1.4
8.4 0.9 0.45 1.5 0.77 1.03
8.8 0.75 0.35 1.2 0.64 0.86
}\tDal
\pgfplotstableread{
m v l h a b
8.0 0.9 0.5 1.4 0.79 1.01
8.4 1.0 0.58 1.55 0.88 1.12
8.8 1.2 0.75 1.8 1.07 1.33
9.2 1.4 0.9 2.0 1.26 1.54
9.5 1.6 1.0 2.2 1.44 1.76
9.8 1.3 0.85 1.85 1.18 1.42
10.1 1.0 0.62 1.5 0.9 1.1
10.4 0.9 0.55 1.38 0.8 1.0
10.7 1.1 0.7 1.6 0.99 1.21
11.0 0.8 0.48 1.25 0.71 0.89
11.4 1.0 0.6 1.5 0.89 1.11
11.8 0.8 0.48 1.25 0.71 0.89
12.2 0.7 0.4 1.12 0.62 0.78
}\tKan
\pgfplotstableread{
m v l h a b
8.1 1.2 0.6 2.3 1.02 1.38
8.4 1.0 0.55 1.7 0.87 1.13
8.7 1.3 0.8 2.0 1.16 1.44
9.0 1.6 1.05 2.3 1.45 1.75
9.2 1.9 1.3 2.5 1.74 2.06
9.5 1.1 0.72 1.6 1.0 1.2
9.8 0.9 0.58 1.35 0.81 0.99
10.1 1.1 0.72 1.6 1.0 1.2
10.4 0.8 0.5 1.2 0.72 0.88
10.7 1.0 0.65 1.48 0.9 1.1
11.0 1.2 0.8 1.72 1.09 1.31
11.3 0.9 0.58 1.35 0.81 0.99
11.6 1.1 0.72 1.6 1.0 1.2
11.9 0.8 0.5 1.2 0.72 0.88
12.2 1.0 0.65 1.48 0.9 1.1
12.5 1.1 0.72 1.6 1.0 1.2
12.8 0.8 0.5 1.2 0.72 0.88
13.1 0.9 0.58 1.35 0.81 0.99
13.4 1.0 0.65 1.48 0.9 1.1
13.7 0.7 0.44 1.06 0.63 0.77
14.0 0.9 0.58 1.35 0.81 0.99
14.3 0.8 0.5 1.2 0.72 0.88
14.6 0.6 0.36 0.95 0.54 0.66
14.9 0.9 0.56 1.38 0.81 0.99
15.2 0.7 0.42 1.1 0.63 0.77
15.5 0.8 0.48 1.25 0.72 0.88
15.7 0.5 0.28 0.85 0.44 0.56
}\tKam
\pgfplotstableread{
m v l h a b
8.4 1.1 0.6 1.7 0.97 1.23
8.8 1.4 0.9 2.05 1.27 1.53
9.1 1.7 1.15 2.35 1.56 1.84
9.4 2.0 1.4 2.6 1.85 2.15
9.7 1.3 0.88 1.85 1.19 1.41
9.9 0.9 0.58 1.35 0.81 0.99
10.3 0.5 0.3 0.82 0.44 0.56
10.8 0.7 0.38 1.2 0.61 0.79
11.3 0.8 0.42 1.4 0.69 0.91
11.7 0.9 0.5 1.5 0.78 1.02
12.1 0.85 0.45 1.5 0.73 0.97
}\tBey
\pgfplotstableread{
m v l h a b
8.15 1.8 1.1 3.0 1.55 2.05
8.5 1.4 0.9 2.1 1.26 1.54
8.8 1.1 0.7 1.65 0.99 1.21
9.1 0.9 0.58 1.35 0.81 0.99
9.5 1.2 0.8 1.75 1.09 1.31
9.8 1.4 0.95 2.0 1.27 1.53
10.1 1.6 1.1 2.25 1.46 1.74
10.4 1.8 1.25 2.45 1.65 1.95
10.7 1.2 0.8 1.75 1.09 1.31
11.0 0.8 0.52 1.2 0.72 0.88
11.3 1.2 0.8 1.75 1.09 1.31
11.6 1.4 0.95 2.0 1.27 1.53
11.9 1.0 0.65 1.5 0.9 1.1
12.2 0.8 0.52 1.2 0.72 0.88
12.5 1.8 1.2 2.5 1.65 1.95
12.8 1.0 0.65 1.5 0.9 1.1
13.1 0.6 0.38 0.92 0.54 0.66
13.4 0.55 0.34 0.86 0.49 0.61
13.7 0.7 0.43 1.08 0.63 0.77
}\tLol
\pgfplotstableread{
m v l h a b
8.4 0.7 0.2 1.6 0.55 0.85
8.85 0.6 0.2 1.2 0.48 0.72
9.7 0.75 0.3 1.5 0.62 0.88
}\tGge
\pgfplotstableread{
m v l h a b
8.96 0.9 0.4 1.6 0.76 1.04
14.25 0.9 0.4 1.6 0.76 1.04
16.5 0.3 0.05 1.2 0.2 0.45
}\tBok
\pgfplotstableread{
m v l h a b
9.2 1.6 1.1 2.3 1.45 1.75
9.5 1.8 1.3 2.4 1.66 1.94
9.8 2.1 1.6 2.7 1.96 2.24
10.1 1.0 0.65 1.5 0.9 1.1
10.3 0.4 0.22 0.68 0.35 0.45
10.6 0.6 0.36 0.95 0.53 0.67
10.8 0.8 0.5 1.22 0.71 0.89
11.1 1.0 0.62 1.5 0.9 1.1
11.4 1.2 0.75 1.8 1.07 1.33
11.7 0.9 0.55 1.38 0.8 1.0
12.0 0.7 0.42 1.1 0.62 0.78
12.3 0.8 0.48 1.25 0.71 0.89
12.6 0.75 0.42 1.2 0.66 0.84
}\tFar
\pgfplotstableread{
m v l h a b
11.2 1.0 0.5 1.9 0.84 1.16
14.3 0.9 0.4 1.6 0.76 1.04
14.7 0.95 0.45 1.65 0.8 1.1
15.1 0.8 0.35 1.4 0.67 0.93
}\tFri
\pgfplotstableread{
m v l h a b
12.5 1.2 0.6 1.8 1.04 1.36
12.8 1.0 0.5 1.55 0.86 1.14
13.1 0.7 0.3 1.1 0.6 0.8
}\tMal
\pgfplotstableread{
m v l h a b
12.6 0.8 0.3 1.5 0.66 0.94
}\tTou
\pgfplotsset{botx/.style={xtick={0,12}, xticklabels={2014,2015}, minor xtick={3,6,9,15}, xtick pos=bottom, tick align=outside, major x tick style={line width=0.6bp, black}, minor x tick style={line width=0.6bp, black}, major tick length=14bp, minor tick length=4bp, xticklabel style={anchor=north west, xshift=1.5bp, yshift=11bp}}}
\begin{document}
\begin{tikzpicture}
\begin{groupplot}[group style={group size=7 by 9, horizontal sep=0pt, vertical sep=0pt, yticklabels at=edge left},
 width=99.14bp, height=78.41bp, scale only axis,
 xmin=-0.4, xmax=16.84, ymin=0, ymax=4.82,
 xtick=\empty, ytick={0,1,2,3,4}, ytick style={draw=none},
 axis line style={line width=0.8bp, black},
 /pgf/number format/assume math mode=true,
 tick label style={font=\fontsize{10bp}{12bp}\selectfont},
 yticklabel style={xshift=-1bp}]
\nextgroupplot \pn{gT}{Gueckedou}{\tGue}
\nextgroupplot \pn{gT}{Macenta}{\tMac}
\nextgroupplot \pn{gT}{Conakry}{\tCon}
\nextgroupplot \pn{gT}{Kissidougou}{\tKis}
\nextgroupplot \pn{gT}{Kouroussa}{\tKou}
\nextgroupplot \pn{gT}{Dabola}{\tDab}
\nextgroupplot \pn{rT}{Lofa}{\tLof}
\nextgroupplot \pn{gT}{Dinguiraye}{\tDin}
\nextgroupplot \pn{rT}{Margibi}{\tMar}
\nextgroupplot \pn{gT}{Siguiri}{\tSig}
\nextgroupplot \pn{gT}{Telimele}{\tTel}
\nextgroupplot \pn{rT}{Montserrado}{\tMon}
\nextgroupplot \pn{rT}{Nimba}{\tNim}
\nextgroupplot \pn{gT}{Boffa}{\tBof}
\nextgroupplot \pn{bT}{Kailahun}{\tKai}
\nextgroupplot \pn{gT}{Kindia}{\tKin}
\nextgroupplot \pn{bT}{Kenema}{\tKen}
\nextgroupplot \pn{bT}{Port Loko}{\tPor}
\nextgroupplot \pn{bT}{Bombali}{\tBom}
\nextgroupplot \pn{bT}{Moyamba}{\tMoy}
\nextgroupplot \pn{rT}{Bomi}{\tBmi}
\nextgroupplot \pn{bT}{Bo}{\tBo}
\nextgroupplot \pn{bT}{Freetown}{\tFre}
\nextgroupplot \pn{bT}{West Rural}{\tWes}
\nextgroupplot \pn{rT}{Bong}{\tBng}
\nextgroupplot \pn{bT}{Kono}{\tKon}
\nextgroupplot \pn{rT}{Grand Bassa}{\tGba}
\nextgroupplot \pn{rT}{Rivercess}{\tRiv}
\nextgroupplot \pn{bT}{Bonthe}{\tBth}
\nextgroupplot \pn{gT}{Nzerekore}{\tNze}
\nextgroupplot \pn{gT}{Pita}{\tPit}
\nextgroupplot \pn{rT}{Grand Cape Mount}{\tGcm}
\nextgroupplot \pn{bT}{Pujehun}{\tPuj}
\nextgroupplot \pn{gT}{Yomou}{\tYom}
\nextgroupplot \pn{rT}{Gbarpolu}{\tGbp}
\nextgroupplot \pn{rT}{River Gee}{\tRge}
\nextgroupplot \pn{bT}{Koinadugu}{\tKoi}
\nextgroupplot \pn{bT}{Tonkolili}{\tTon}
\nextgroupplot \pn{gT}{Dubreka}{\tDub}
\nextgroupplot \pn{rT}{Maryland}{\tMry}
\nextgroupplot \pn{gT}{Kerouane}{\tKer}
\nextgroupplot \pn{rT}{Sinoe}{\tSin}
\nextgroupplot \pn{gT}{Forecariah}{\tFor}
\nextgroupplot \pn{gT}{Coyah}{\tCoy}
\nextgroupplot \pn{rT}{Grand Kru}{\tGkr}
\nextgroupplot \pn{gT}{Dalaba}{\tDal}
\nextgroupplot \pn{gT}{Kankan}{\tKan}
\nextgroupplot \pn{bT}{Kambia}{\tKam}
\nextgroupplot \pn{gT}{Beyla}{\tBey}
\nextgroupplot \pn{gT}{Lola}{\tLol}
\nextgroupplot \pn{rT}{Grand Gedeh}{\tGge}
\nextgroupplot \pn{gT}{Boke}{\tBok}
\nextgroupplot \pn{gT}{Faranah}{\tFar}
\nextgroupplot \pn{gT}{Fria}{\tFri}
\nextgroupplot \pn{gT}{Mali}{\tMal}
\nextgroupplot[botx] \pn{gT}{Tougue}{\tTou}
\nextgroupplot[botx] \pe{gT}{Gaoual}
\nextgroupplot[botx] \pe{gT}{Koubia}
\nextgroupplot[botx] \pe{gT}{Koundara}
\nextgroupplot[botx] \pe{gT}{Labe}
\nextgroupplot[botx] \pe{gT}{Lelouma}
\nextgroupplot[botx] \pe{gT}{Mamou}
\nextgroupplot[hide axis]
\addplot[black!18, line width=3bp] coordinates {(1.93,0.17) (1.93,3.45)};
\addplot[black!45, line width=1.8bp] coordinates {(2.92,0.98) (2.92,2.63)};
\addplot[black, only marks, mark=square*, mark size=0.8bp] coordinates {(4.14,1.77)};
\addplot[black, line width=0.6bp] coordinates {(4.5,1.77) (5.3,1.77)};
\addplot[black, line width=0.6bp] coordinates {(3.67,0.98) (5.41,0.98)};
\addplot[black, line width=0.6bp] coordinates {(2.45,0.17) (5.41,0.17)};
\node[anchor=west, font=\fontsize{9.5bp}{11bp}\selectfont, inner sep=0pt] at (axis cs:5.9,1.77) {median value};
\node[anchor=west, font=\fontsize{9.5bp}{11bp}\selectfont, inner sep=0pt] at (axis cs:5.9,0.98) {interquartile CI};
\node[anchor=west, font=\fontsize{9.5bp}{11bp}\selectfont, inner sep=0pt] at (axis cs:5.9,0.17) {95\% CI};
\end{groupplot}
\node[anchor=base west, inner sep=0pt, font=\fontsize{14bp}{16bp}\selectfont] at ([xshift=-35.3bp,yshift=-46.1bp]group c1r5.north west) {R\textsubscript{e}};
\pgfresetboundingbox
\path[use as bounding box] ([xshift=-37bp,yshift=2bp]group c1r1.north west) rectangle ($(group c7r1.north east |- group c1r9.south west)+(2bp,-19.3bp)$);
\end{tikzpicture}
\end{document}
